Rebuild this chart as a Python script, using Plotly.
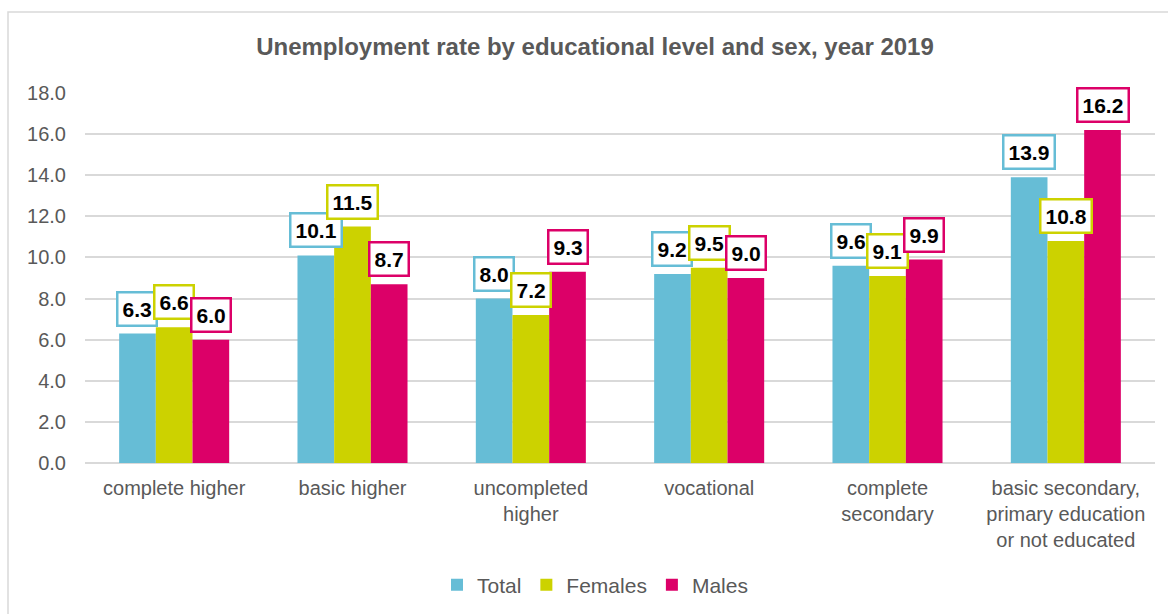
import plotly.graph_objects as go

categories = ["complete higher", "basic higher", "uncompleted<br>higher", "vocational",
              "complete<br>secondary", "basic secondary,<br>primary education<br>or not educated"]
series_names = ["Total", "Females", "Males"]
total = [6.3, 10.1, 8.0, 9.2, 9.6, 13.9]
females = [6.6, 11.5, 7.2, 9.5, 9.1, 10.8]
males = [6.0, 8.7, 9.3, 9.0, 9.9, 16.2]
colors = ["#66BDD6", "#CCD200", "#DC0068"]
y_ticks = [0, 2, 4, 6, 8, 10, 12, 14, 16, 18]

W, H = 1168, 614
L, R, T, B = 85, 13, 93, 151

fig = go.Figure()
for name, vals, col in zip(series_names, [total, females, males], colors):
    fig.add_trace(go.Bar(
        x=categories, y=vals, name=name, marker=dict(color=col, line=dict(width=0)),
        offsetgroup=name,
    ))

n = len(series_names)
bargap = 0.383
bw = (1 - bargap) / n
annotations = []
for si, (vals, col) in enumerate(zip([total, females, males], colors)):
    for ci, v in enumerate(vals):
        annotations.append(dict(
            x=ci + (si - (n - 1) / 2) * bw, xref="x", y=v, yref="y", text=f"{v:.1f}",
            showarrow=False, yshift=7, yanchor="bottom",
            font=dict(family="Liberation Sans, Arial", size=21, color="#000000", weight="bold"),
            bgcolor="white", bordercolor=col, borderwidth=2.5, borderpad=4,
        ))

pw = W - L - R
ph = H - T - B
fig.update_layout(
    width=W, height=H,
    margin=dict(l=L, r=R, t=T, b=B, autoexpand=False),
    paper_bgcolor="white", plot_bgcolor="white",
    barmode="group", bargap=bargap, bargroupgap=0,
    title=dict(text="<b>Unemployment rate by educational level and sex, year 2019</b>",
               x=(595 - L) / pw, xref="paper", xanchor="center", y=1 - 47 / H, yanchor="middle",
               font=dict(family="Liberation Sans, Arial", size=24, color="#595959")),
    font=dict(family="Liberation Sans, Arial", size=20, color="#595959"),
    xaxis=dict(showgrid=False, showline=False, ticks="", tickfont=dict(size=20, color="#595959"),
               ticklabelstandoff=11, automargin=False),
    yaxis=dict(range=[0, 18], tickvals=y_ticks, ticktext=[f"{t:.1f}" for t in y_ticks],
               showgrid=True, gridcolor="#D9D9D9", gridwidth=1.5, zeroline=True,
               zerolinecolor="#D9D9D9", zerolinewidth=1.5, showline=False, ticks="",
               tickfont=dict(size=20, color="#595959"), ticklabelstandoff=18, automargin=False),
    legend=dict(orientation="h", x=(595 - L) / pw, xanchor="center", y=-(585 - (H - B)) / ph,
                yanchor="middle", font=dict(size=21, color="#595959"), itemwidth=30,
                traceorder="normal"),
    annotations=annotations,
    showlegend=True,
    shapes=[dict(type="rect", xref="paper", yref="paper",
                 x0=(8 - L) / pw, x1=(W + 20 - L) / pw,
                 y0=-(H + 20 - (H - B)) / ph, y1=1 + (T - 12) / ph,
                 line=dict(color="#D9D9D9", width=1.5), fillcolor="rgba(0,0,0,0)", layer="below")],
)
fig.write_html("out.html")
